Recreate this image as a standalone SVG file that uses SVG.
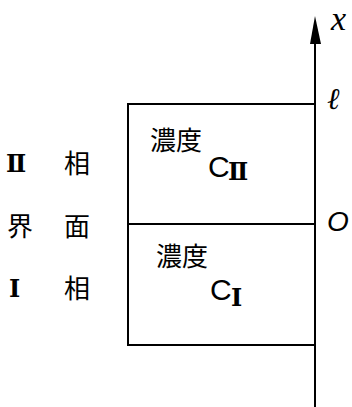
<svg xmlns="http://www.w3.org/2000/svg" width="352" height="407" viewBox="0 0 352 407">
<style>
.ln{stroke:#000;stroke-width:2;fill:none;stroke-linecap:square}
.jp{font-family:"Noto Sans CJK JP","Noto Sans CJK SC",sans-serif;font-size:26px;fill:#000}
.rn{font-family:"DejaVu Serif","Noto Sans CJK JP",serif;font-size:24px;fill:#000;font-weight:bold}
.it{font-family:"Liberation Serif",serif;font-style:italic;fill:#000}
.c{font-family:"Liberation Sans",sans-serif;font-size:30px;fill:#000}
</style>
<rect width="352" height="407" fill="#fff"/>
<g id="connectors">
<line class="ln" x1="315" y1="40" x2="315" y2="407"/>
<polygon points="315,16 310,44 321,44" fill="#000"/>
</g>
<g id="phase2">
<path class="ln" d="M128,104 H315 M128,104 V224"/>
<text class="jp" x="150" y="150">濃度</text>
<text class="c" x="208" y="177">C</text>
<text class="rn" x="228" y="180" font-size="16">Ⅱ</text>
</g>
<g id="phase1">
<path class="ln" d="M128,224 H315 M128,224 V345 H315"/>
<text class="jp" x="156" y="266">濃度</text>
<text class="c" x="210" y="300">C</text>
<text class="rn" x="231" y="306" font-size="16">Ⅰ</text>
</g>
<g id="labels-left">
<text class="rn" x="6" y="172">Ⅱ</text>
<text class="jp" x="64" y="173">相</text>
<text class="jp" x="7" y="236">界</text>
<text class="jp" x="64" y="236">面</text>
<text class="rn" x="9" y="297">Ⅰ</text>
<text class="jp" x="64" y="298">相</text>
</g>
<g id="axis-labels">
<text class="it" x="331" y="30" font-size="34">x</text>
<text class="it" x="327" y="109" font-size="30">ℓ</text>
<text class="it" x="327" y="231" font-size="28" style="font-family:'Liberation Sans',sans-serif">O</text>
</g>
</svg>
